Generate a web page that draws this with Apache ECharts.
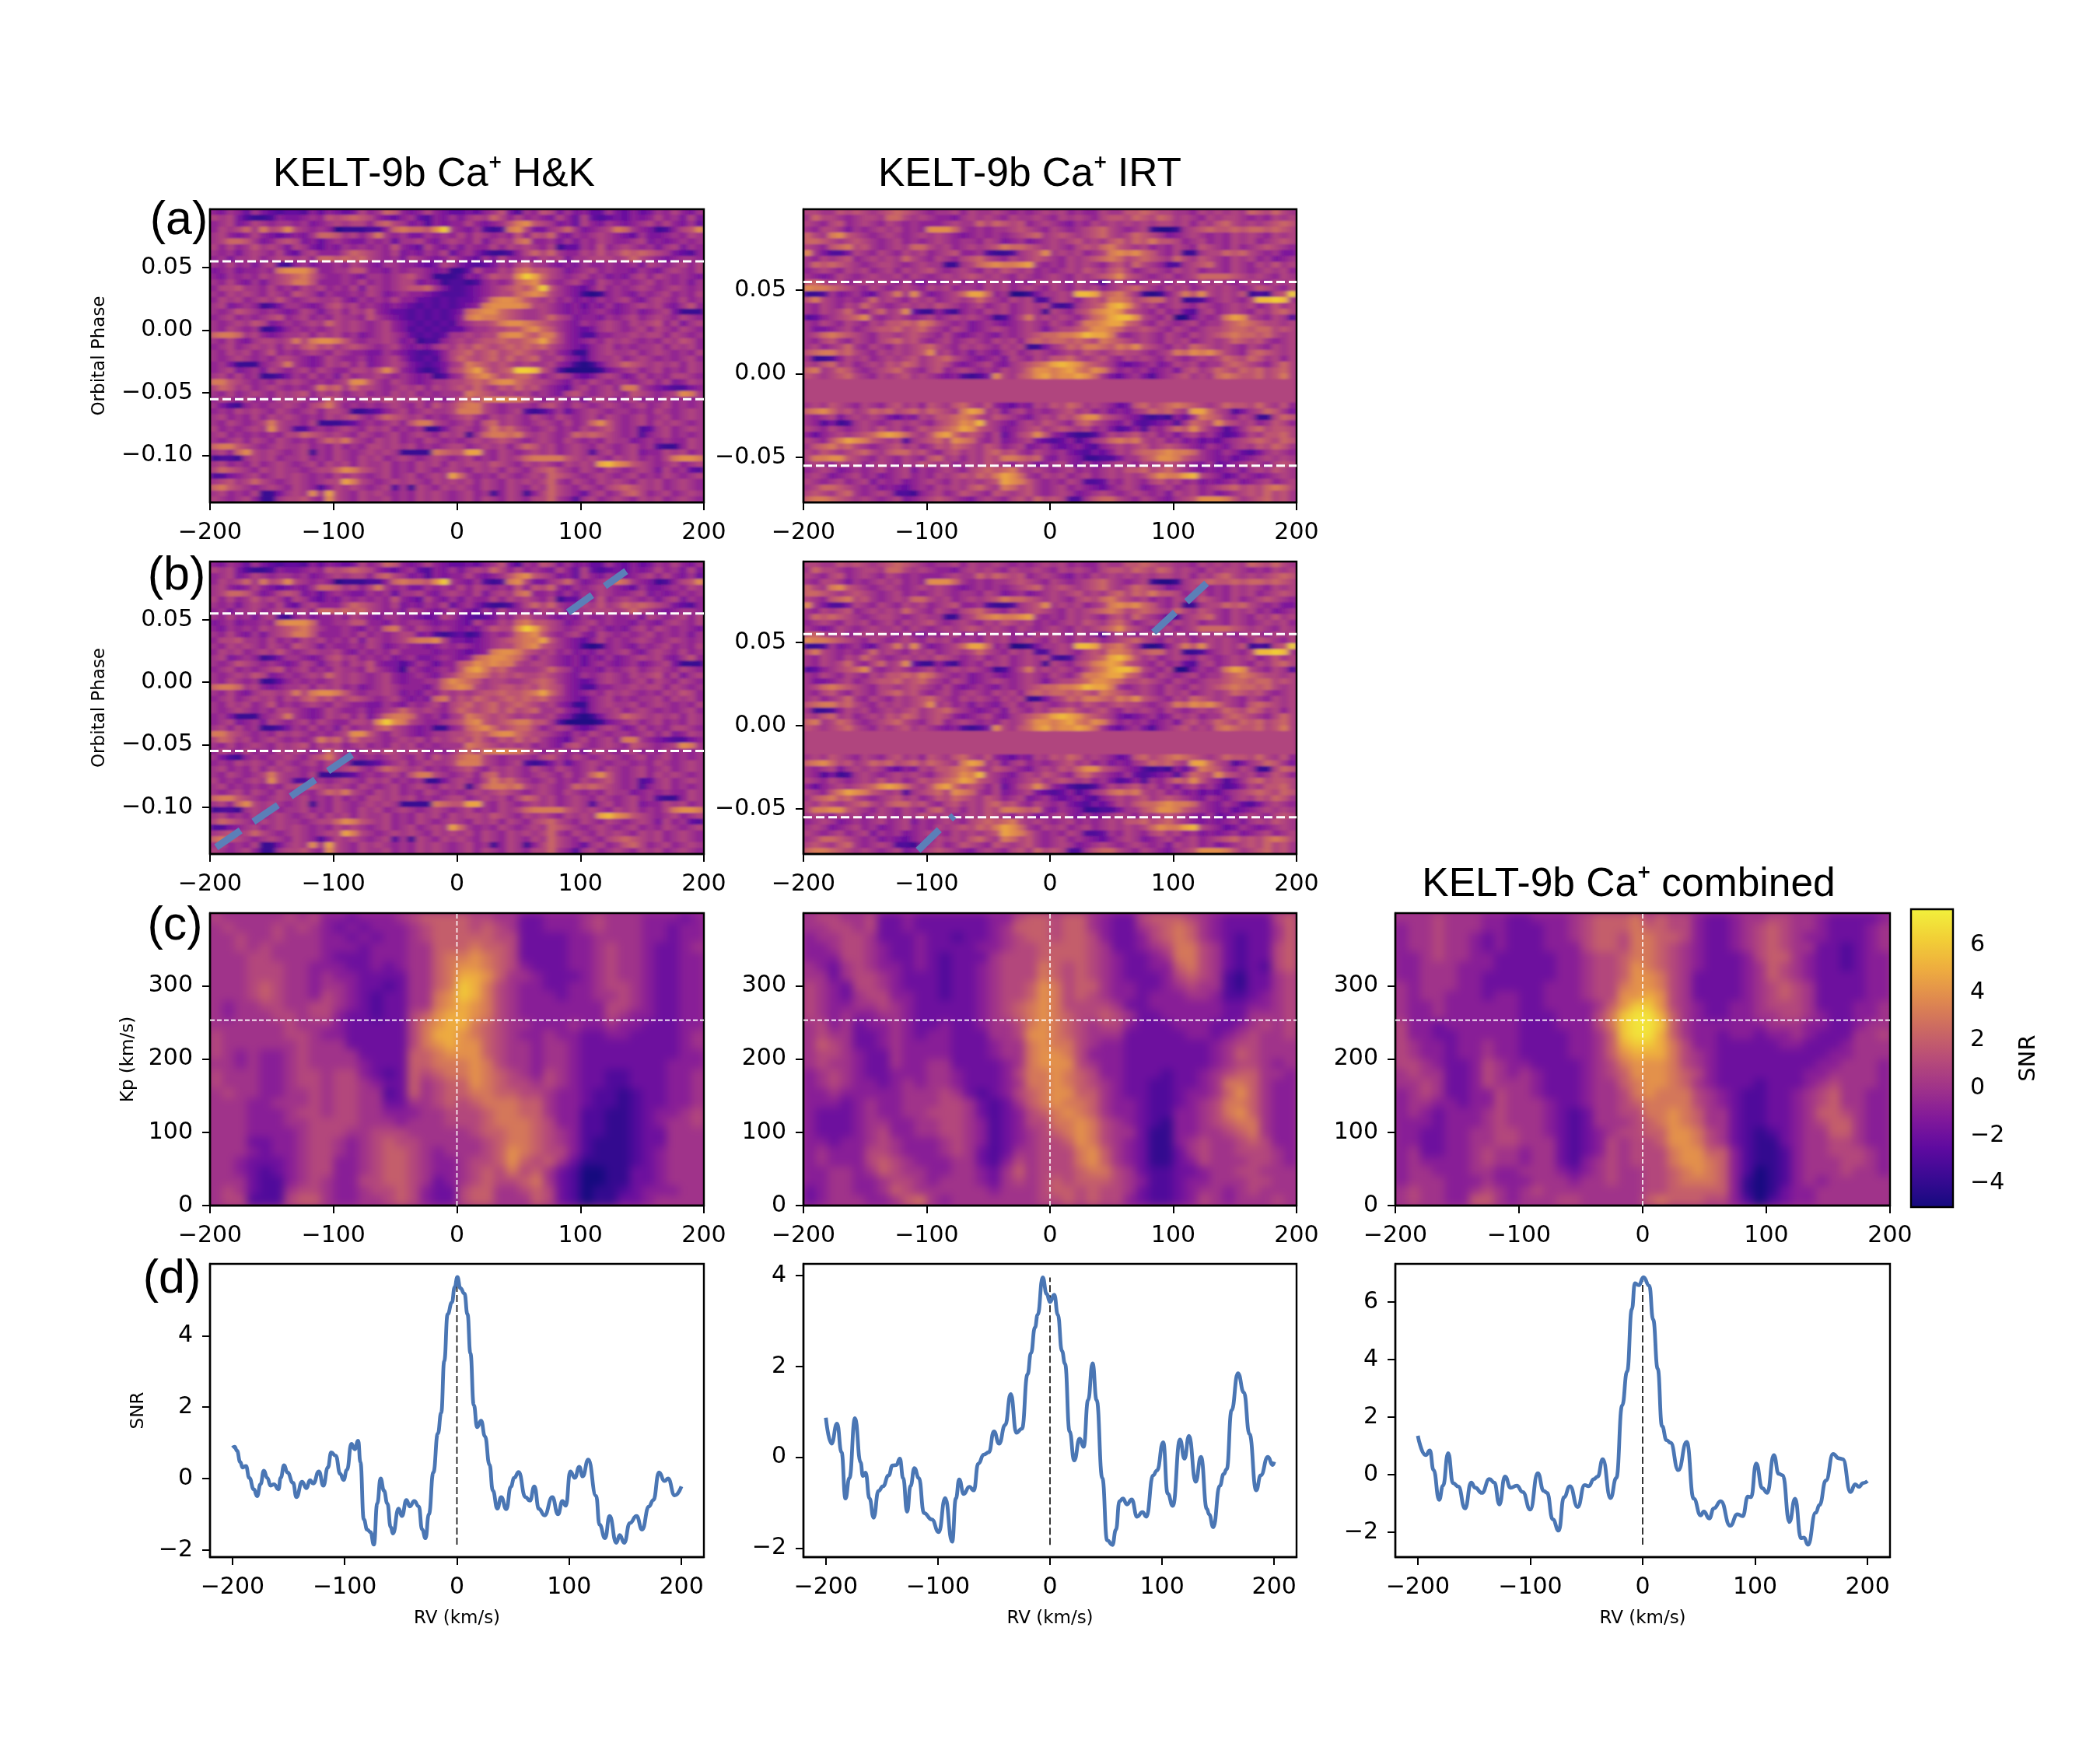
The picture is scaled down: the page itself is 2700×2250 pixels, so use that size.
<!DOCTYPE html>
<html>
<head>
<meta charset="utf-8">
<title>KELT-9b Ca+</title>
<script src="https://cdn.jsdelivr.net/npm/echarts@6/dist/echarts.min.js"></script>
<style>
html, body { margin: 0; background: #fff; }
.layer { position: absolute; left: 0; top: 0; width: 2700px; height: 2250px; }
</style>
</head>
<body>
<svg width="0" height="0" style="position:absolute"><filter id="rowBlur" x="0" y="0" width="100%" height="100%"><feGaussianBlur stdDeviation="3.5 1"/></filter></svg>
<div id="noiseMaps" class="layer" style="filter: url(#rowBlur)"></div>
<div id="kpMaps" class="layer" style="filter: blur(6px)"></div>
<div id="axes" class="layer"></div>
<script>
// hex digit per cell, top row first. phase maps: SNR = (d - 8) * 0.56
var hkAbove = [
'6576475434 4364654586 7a96568654 4546795376 9857564475 4645768657',
'8785322365 5676989a98 6546743657 5787a86867 6586484345 4656867585',
'6785687677 6756787886 9a87563656 6865679bc9 8756486576 5678686574',
'6878a7b89c 8767612223 36abaa9cf7 657323bc85 578a75678b a76523689c',
'7865686545 657aa97868 b767557676 8687676969 8a65767876 5475567687',
'78aa975689 8564676557 6747786578 7685787ab6 6757576876 6785656767',
'8686797875 8754657676 7696548657 5766868787 6824476967 8767578576',
'7675787685 4786668a98 7685657684 675322368a 8a76687978 a9a9875436',
'6757786788 786aa9a9a8 7675876568 6547586676 8785778887 8a87656776',
'7686757832 6756676876 5776654587 5434576897 7656576676 6758767868'
];
var hkTransitRaw = [
'56756676bc cca6677996 6576776562 2486687ab9 9875678676 6576578768',
'6576768789 ab97667657 7678976222 3657988cfd a876786756 5786876765',
'7686575789 bb96667686 7678856523 3236767abc 9767865876 7678676757',
'6889776867 6878676858 767899a753 3456789a9b f976546867 6787678767',
'7687876876 9875766768 7567665433 3456788abc b876521267 6576786768',
'6878678797 6787786576 7686644343 4457bccb98 7867565767 8657876867',
'7856762357 7656897867 6565434343 456bccccb8 8765646575 6787865796',
'7679876765 6875786879 6544343434 5abcca9877 8765656765 6756785222',
'6786767896 7867687769 7654343434 6bcbba9877 8a87566576 7867876876',
'7678798567 6787a87876 7865434343 67889bccba 9876576787 6878968578',
'7687672246 7676787876 7865343434 46778899bc a976545787 6786876876',
'abba786567 7868786756 7876434347 78788bcca9 bb86533667 7878868767',
'7686578878 b8bccb9767 7875623367 87899a99ab da86567687 8767687986',
'6786787868 79a8978987 6786565787 98a989a9a9 a876546786 7677868786',
'7687867967 6787687665 5765433468 9a89a89a98 7865226787 7867876768',
'7678767688 7656876675 6786434368 a989a8a89a 7786536778 6787676786',
'675222678b 7656878685 6787543457 8ba9898787 7865212578 a987878687',
'6785675876 7868766887 9c96532358 9bda89affe 9731111256 7867867687',
'7868672235 7686758677 8767656236 7abca89aa8 6787545787 5686768876'
];
var hkTransitClean = [
'56756676bc cca6677996 6576776566 5486687ab9 9875678676 6576578768',
'6576768789 ab97667657 6ab7687676 5657988cfd a876786756 5786876765',
'7686575789 bb96667686 7678856323 4236767abc 9767865876 7678676757',
'6889776867 6878676858 7678abbc85 5456789abb d976546867 6787678767',
'7687876876 9875766768 7567665676 7656788abc 9876521267 6576786768',
'6878678797 6787786576 7686666566 5456bccb98 7867565767 8657876867',
'7856762357 7656897867 6756755676 56abccba86 8765646575 6787865796',
'7679876765 6875786879 6553576466 9acbcbb878 8765646765 6756785222',
'6786767896 7867687769 7652765676 9cdb9a8777 8a87566576 7867876876',
'7678798567 6787a87876 7865676578 abba898988 9876576787 6878968578',
'7687672246 7676787876 78656677ac ba97887789 a976545787 6786876876',
'abba786567 7868786756 78766657ab cb87899898 a986533667 7878868767',
'7686578878 b8bccb9767 7875657687 87899a99ab da86567687 8767687986',
'6786787868 79a8978987 6786565ab7 98a989a9a9 a876546786 7677868786',
'7687867967 6787687665 5765767868 9a89a89a98 7865226787 7867876768',
'7678767688 7656876675 678a878768 a989a8a89a 7786536778 6787676786',
'675222678b 7656878685 7abba76757 8ba9898787 7865212578 a987878687',
'6785675876 7868766887 cfcb876678 9bc989abb9 9731111256 7867867687',
'7868672235 7686758677 9a87656226 7abca89aa8 6787545787 5686768876'
];
var hkBelow = [
'bb98767687 8767678cc9 7687656778 89a9bcca98 8765768767 7678685687',
'8a97867876 767b9a7a88 7678786878 98a8798a89 7654786786 bb76543356',
'7686787687 8968786786 7687867677 7ba9878786 7658976787 6987678cb7',
'6876867687 8767a87678 7987886767 9a8bbcbb98 6786758876 7867686767',
'7532676778 7689b86767 6787686978 abb8767776 8976876787 6786786767',
'6768787687 6786887223 4678678778 bbb8767832 3574678767 7676876787',
'7867686878 7676878976 8a98786767 8976878768 7687678687 6786786787',
'7687678b87 7682223467 67869bb876 7869a78767 876867ac97 6786878767',
'8676787c87 3367678768 7867672257 8768b9a876 7867687897 6734786787',
'7867676768 8a98787687 6786787687 827abbab87 8767a9a987 6736786767',
'7678687687 6768a9b876 8786768767 6787898767 8768767687 7567676687',
'abb9876787 7867686768 8787867678 86787868a9 7867876876 7867322687',
'786ac87876 7827687678 7872222ba9 9dd7687678 7867873786 7856687867',
'2332787867 7867687687 8678767876 78676878ab bbb9878768 786768bccb',
'7867686787 6786878687 7867687868 7887987687 8768787dec b987678678',
'8a98768787 76788acb98 7867687678 7687868768 9a87687687 6787586743',
'3356786787 8767687876 786786787d a767687678 7a98767876 7867687678',
'78978a8767 876788db87 6787876878 7868768787 8a76876878 7687867876',
'ab98767876 8763687876 7837287687 8768768768 7a87687689 a987867876',
'7867682257 87c7d87687 8767687876 7867268726 8a87647867 9a86786787',
'8767862278 8976c87687 7867687876 7868768768 8a76378678 7687867876'
];
var irtAbove = [
'8877989878 9a98767786 8778767678 7867668779 9a98877687 8787a98a87',
'7a88767887 aa87876657 8787687787 6878768998 a98a978768 7887676878',
'8768967876 8767666787 7a8a989678 7657687878 7878878687 9a878789a9',
'7688757678 78676ccca7 6767789876 876789a876 782112789a 99a9aa9a98',
'a87bc98767 8767878765 67676789a7 898789a878 a987567876 7687876878',
'aa98789876 7867678767 7687567567 87897879a8 a9b9986786 7687867898',
'8769ab8976 787aa87867 8789baa987 876898ab98 7867687698 7686789876',
'c753358768 7687867896 673223789c 7878678bcb ca97682278 8a9a876755',
'7687896787 87a8768768 9a87687898 768789aba8 9a987a8798 7687867567',
'7a9a987678 8767877227 8abcbbcd76 7687876897 a87633789a 7687687978',
'6787687867 8687897678 7687987867 67879879a8 6787687867 7687678786',
'7656876787 7868767878 9878768767 8768789ac9 87678678aa aa98787687',
'9a87867878 7686576786 7687867687 8768763787 6787687687 8767876878',
'cbba987687 6787687867 7687867876 8768786789 a876878678 7876798768',
'2237567547 8b7c75678a dda6711257 787eed9ab9 721268b9c8 787923289f',
'9b876767a7 8768786787 8a87687833 7876898bba 89aa782236 78768eefe7',
'7687687a87 6787879876 7867867878 323789adec 9786787687 6787867978',
'76878a768a 78c4226326 7687867872 87689bcdc9 8768674378 67876879a8',
'346789ac76 7876786787 8762368b78 78768abdee c876811576 7bdc876873',
'7687687687 99a9ba8767 5676567876 8768bbcdda 9768767867 79aba98878',
'7556786789 9a89a87687 5678767875 7889accba8 8987687678 89aa9aa898',
'78aba98768 8789876865 676576789a abbceddb76 7876876878 9abaa9a878',
'7689768768 9a89767867 87687869a9 aa9a98ba98 7876878678 78a9897678',
'78678a7687 68789a8768 7876878225 78a9bba9ba c987687a98 7876876878',
'9abb9a8768 78789c7867 5765786787 6787987898 87678bacbc a8769a9878',
'7223687867 8789789a87 6567587687 99a8789768 7876876787 8a98a97868',
'879a786787 98a9789865 67865789ab dedca98754 5675687867 79a98768a8',
'ab78a97678 9a87689678 7676878acc bcdbacb867 6756758978 a98a9a89a8',
'98789a8768 7897876563 235c879acd bccdca7546 7536789787 aba99a89b8'
];
var irtGapRows = 4;  // masked spectra, SNR 0
var irtBelow = [
'7879876876 897869879a 8796546587 98a9787645 9a89aba987 8a998a8796',
'abca8978a9 a89a8a987b dc78578676 7897867565 78a9a87dda 873578a975',
'7678578787 54658799ab a879876578 798acc9876 53232647ba 97687228a9',
'7635237876 78787689ac be87657879 8769a87657 4345637a98 c987867986',
'8768767879 7867989abd c987567897 8987867534 63768a9c97 63579a8998',
'64678789ac dca879cda8 98684689c9 6532236878 9786757867 53468799a8',
'8769bdcb98 783789a8cb a768567854 3463578aba b878675645 46789a98a9',
'79ab9a8767 89786798a9 8798678567 5456436787 8978987657 6578798a97',
'8798789a87 9aa8976897 879a897687 6754354687 9aabcbba76 5764357876',
'8bbcc98768 768769a786 8798bba9a6 5765223357 79accb9876 5645678787',
'7876878678 7687987867 8798768756 7865756787 6878987657 4567876898',
'6787567678 6785767876 89a9ab8787 6786767879 9a89a87656 5675787987',
'7875678675 6786768789 8a9bdca768 7867867878 78acbbde87 6457656787',
'8767867857 6756787687 8789dcb976 7687334768 7689786756 5675678678',
'78aa987675 6546768787 9a87ba8976 7867654678 7567867867 89a898aba8',
'89879a7678 7332678679 8769878976 7875678767 8767587867 567898a897',
'abba987876 7856789876 57876897a8 983379aa87 68765789cc cb9789a897'
];

// Kp maps, hex digit per cell, top row first. SNR = d - 5, 10 km/s per column
var kpHk = [
'6555556564 4344456777 7665533444 5655544434',
'5655565654 3434445677 7676533444 5655544344',
'5565565554 4343445677 7776633334 4555544344',
'5565655554 4434445577 7877633334 4565543345',
'5556655554 3334445578 8987633334 4565543344',
'5556665544 4334345578 9987643334 4565543344',
'5556665545 4433335578 aa97554333 4565543344',
'5556765545 5433235578 ba86544334 4566543344',
'5556765546 5432335589 ba86544434 4556543344',
'5455665566 5432335589 a986544444 4466543344',
'5455566566 433233679a a986544444 4465443344',
'5555556555 433333689a a876554445 4454433344',
'6555556654 43333368aa 9876544544 3344333345',
'6555555655 533333689a 9976554554 3333333345',
'6545445655 5533337789 9976554554 3333333344',
'5545445655 5543337788 8986554554 3333333444',
'6555445665 6643237678 8987654654 3322333445',
'6555445665 6654337567 7987665654 3322333445',
'5655445565 6655237567 7887766544 3221233445',
'5554455565 6655335567 6788877544 3221233445',
'5554445665 6655444556 6678877544 2211234456',
'5554445566 6655545556 6678887644 2211234556',
'5554444566 6556665555 5677887654 2211233555',
'5553344566 5456766555 5567887654 2111233555',
'5554344566 5456776545 5567987664 2111234555',
'5543334566 4456776544 5667976753 1111234555',
'5543234566 4456776544 5676867532 0011334555',
'5553224565 4466776534 5676678532 0011334555',
'5653225665 4456676433 6775567632 0112344455',
'5662226775 4455676433 6775557632 0113345555'
];
var kpIrt = [
'5665563343 3333344677 6775433677 7654333367',
'5566563343 3333345777 6775433567 8754333357',
'4556653334 3323345677 6776433467 8754323357',
'4456654334 3333445667 7776533456 8865323367',
'4446654334 3233356667 7776543345 8865323367',
'5435654434 3233456668 7676543344 7865323267',
'5535665433 3233456668 7676543334 6765213356',
'6543665433 3233456679 8677544334 5655213356',
'6543566443 3233456679 8676544344 4554223456',
'6544556543 3333456789 8666653344 4444334456',
'6545445543 3333456789 8766765334 4444335556',
'5645344543 3433455689 8765664333 4443345656',
'5655334543 4433355699 8765553333 3443456556',
'5765334544 4433345589 8865443333 3334566555',
'5665433544 4433345589 9864443333 3334576555',
'5655433544 5533334589 9965443333 3334566545',
'4565433444 5543334688 9876443332 3345677554',
'4565443454 5543334588 9876543322 3345887544',
'4454444455 5653234678 9977543322 3445797544',
'4443454455 5665323578 9887544322 3456887544',
'4333454455 6665323467 8987544322 4456897544',
'4333455445 5665423466 8898654321 4456788544',
'4333456445 5665423456 7898655311 4455678544',
'4434456544 4565423456 6798654311 4565567644',
'4544466544 4565323556 6689754311 3565566654',
'4544467654 4455324656 6689754311 3465556654',
'4455457655 4455435756 6678865322 3345566555',
'4455445665 4555435656 7677765422 3445556655',
'3455445765 5555545556 7767665322 3455456555',
'3455544578 5455555556 6767664322 3465455565'
];
var kpCombined = [
'5556555443 3444567778 6766433455 6655433334',
'4556555443 3344567778 7766433456 7655433345',
'4556554343 3344567768 8776433456 7654433345',
'4556554343 3344467768 8765433456 7655332345',
'4456554433 3334456678 8765433346 7754332344',
'4455544433 3334456679 8765433345 7654332344',
'4455544333 3334456679 9865333345 7654333344',
'5455544333 3344456689 9865333345 6765333344',
'5455444344 3344456699 a965333345 6765333344',
'5445444444 3344445 79b b965433445 6665333445',
'5445444444 333444 68bc ca75433445 5665433445',
'6443444444 333444 68bc cb75444444 5554433455',
'6443344444 333344 57bc ca75443443 4454333556',
'6544344544 333344 57ab ba86443333 3443334555',
'6544344544 333344 579a aa86543333 3333344555',
'6654334654 433334 5689 9986543333 3333445554',
'5655334654 543334 5679 9987643333 3334455554',
'5565334655 543334 5578 9987543332 3334565554',
'4565334465 543334 5568 9888654322 3345675544',
'4554434465 554334 5567 8888654322 3345675544',
'4543444565 554323 5566 8898755322 3345776544',
'4443444565 554323 5556 7898755322 3345677544',
'4433445566 554323 4566 7799865321 2345577544',
'4433445566 555323 4656 6799865321 1345566544',
'4533445655 455323 4656 6689977421 1245566654',
'4544445655 455324 5656 6689987421 1245556654',
'4554445544 555434 5655 6678987420 1245556554',
'4555444544 455545 5655 6678887410 1245455555',
'5655445654 565555 5555 6677777410 1344555555',
'5655447754 555665 5555 7877766420 2344555555'
];

// SNR against RV at Kp = 253 km/s
var rvHk = [-200,-198,-196,-193,-191,-188,-185,-181,-178,-175,-172,-169,-166,-163,-159,-157,-154,-151,-146,-143,-138,-134,-131,-128,-123,-119,-115,-112,-108,-104,-101,-98,-94,-91,-88,-86,-83,-80,-77,-74,-71,-68,-65,-62,-59,-57,-52,-49,-45,-42,-38,-34,-31,-28,-25,-21,-17,-14,-11.3,-8.3,-4.5,-2,0.4,3,6.7,9.4,12,15,18,21.5,25,29,32,36,39.4,44,48,51,55,61,65,69,73,78,85,90,94,97,101,105,109,112,117,124,127,132,136,142,145,149,154,160,165,171,175,180,185,188,194,200];
var snrHk = [0.86,0.89,0.78,0.46,0.31,0.35,0.02,-0.3,-0.49,-0.16,0.22,0.02,-0.2,-0.16,-0.3,0.02,0.37,0.17,-0.12,-0.52,-0.09,-0.27,-0.05,-0.14,0.2,-0.2,0.31,0.73,0.64,0.13,-0.04,0.24,0.97,0.82,1.06,0.46,-1.14,-1.43,-1.5,-1.85,-0.7,0,-0.34,-0.7,-1.36,-1.54,-0.84,-1.05,-0.6,-0.78,-0.63,-0.78,-1.43,-1.67,-1,0.17,1.26,1.84,3.29,4.6,4.93,5.36,5.64,5.33,5.18,4.6,3.51,2.06,1.44,1.62,1.18,0.39,-0.34,-0.84,-0.52,-0.86,-0.23,0.02,0.18,-0.52,-0.62,-0.22,-0.85,-1.03,-0.52,-1,-0.63,-0.76,0.2,0.02,0.33,0.06,0.53,-0.49,-1.29,-1.67,-1.05,-1.8,-1.58,-1.8,-1.25,-1.05,-1.43,-0.78,-0.6,0.17,-0.07,0,-0.47,-0.22];
var rvIrt = [-200,-195,-190,-186,-182.5,-179,-174,-169,-167,-164.6,-161,-157.4,-153,-149,-144,-140.5,-137,-134,-131,-127.5,-124.4,-121,-117,-112.4,-105.5,-99.3,-93.5,-87.3,-84,-81,-77,-72,-68,-64,-59,-54.6,-50,-45.4,-40,-35,-30,-25,-20,-17,-13.4,-11,-6.5,-3,0,3.8,7,10.7,13.4,17.5,21.6,26.5,30,34,38,41.6,46.7,51,55.7,58.8,62,65,68.7,72.9,77.7,82.5,86,92,95.5,101,105,109.6,116,120,124,130,134.7,140,142,145.7,151.5,155,157.7,162,167.7,173,178,184,188,194.5,198.6,200];
var snrIrt = [0.87,0.3,0.74,0.11,-0.91,-0.46,0.86,-0.11,-0.41,-0.34,-0.91,-1.33,-0.74,-0.64,-0.4,-0.18,-0.17,-0.03,-0.46,-1.2,-0.63,-0.24,-0.46,-1.23,-1.37,-1.65,-0.9,-1.86,-0.91,-0.49,-0.81,-0.65,-0.73,-0.14,0.06,0.11,0.57,0.3,0.71,1.39,0.54,0.63,1.83,2.29,2.86,3.14,3.96,3.6,3.42,3.58,3.14,2.34,2.06,0.57,-0.07,0.41,0.23,1.26,2.07,1.26,-0.46,-1.83,-1.93,-1.6,-0.97,-0.91,-1.04,-0.93,-1.31,-1.21,-1.31,-0.4,-0.29,0.33,-0.8,-1.07,0.39,-0.03,0.47,-0.54,0.01,-1.14,-1.26,-1.54,-0.63,-0.37,-0.26,1.03,1.85,1.43,0.51,-0.73,-0.4,0.01,-0.17,-0.1];
var rvCombined = [-200,-193,-189.3,-186,-181,-177.6,-173,-168.7,-164,-158,-152.5,-149,-143,-136.3,-132,-127.4,-122.5,-117.4,-112,-106.7,-100,-93.3,-88,-85,-80,-74.7,-70,-64.7,-57.8,-51.6,-48,-43.4,-40,-35.5,-28.6,-23.4,-18.2,-13.8,-9.6,-6.9,-3.4,0.7,5.9,9.3,13.4,17.2,21.3,24.8,31.7,39.2,45.4,51.6,54.4,59.2,63.3,69.5,77.8,84.3,89,93.6,96.4,101,106.4,110.8,116.7,121,124.6,130.5,135.6,140.8,143.5,147,153.9,157.3,163,169.4,174.5,178,184.9,189,192.5,196,200];
var snrCombined = [1.35,0.68,0.84,0.16,-0.87,-0.38,0.75,-0.29,-0.41,-1.17,-0.27,-0.45,-0.63,-0.15,-0.27,-1.03,-0.06,-0.45,-0.38,-0.6,-1.21,0.05,-0.56,-0.63,-1.55,-1.94,-0.78,-0.4,-1.12,-0.36,-0.4,-0.15,-0.06,0.54,-0.81,-0.11,2.41,3.59,5.75,6.65,6.58,6.86,6.56,5.39,3.68,1.69,1.2,1.11,0.16,1.14,-0.83,-1.41,-1.28,-1.52,-1.17,-0.92,-1.77,-1.37,-1.44,-0.76,-0.78,0.39,-0.47,-0.63,0.68,0.03,-0.02,-1.64,-0.83,-2.2,-2.18,-2.43,-1.32,-1.05,-0.2,0.72,0.57,0.54,-0.6,-0.33,-0.42,-0.29,-0.22];

// planet trail [rv, phase] outside transit
var trailHkLow = [[-195,-0.132],[-85,-0.058]];
var trailHkHigh = [[90,0.056],[137,0.089]];
var trailIrtLow = [[-107,-0.0748],[-78,-0.054]];
var trailIrtHigh = [[84,0.056],[127,0.0855]];

var phaseTicks = [-0.10,-0.05,0,0.05];
var kpTicks = [0,100,200,300];
var rvTicks = [-200,-100,0,100,200];
var cbarTicks = [-4,-2,0,2,4,6];
var contactPhase = 0.055;
var kpPlanet = 253;

var plasma = ['#150a7f','#3a0a93','#5f0aa0','#82199a','#a0338a','#b84c78','#cc6a62','#e08a4e','#eead3f','#f2cf36','#f2f03c'];

var colX = [[270,635],[1033,634],[1794,636]];
var rowY = {a:[269,377], b:[722,376], c:[1174,376], d:[1625,377]};

function box(col,row){ return {left:colX[col][0], width:colX[col][1], top:rowY[row][0], height:rowY[row][1]}; }
function minus(v){ return String(v).replace('-','\u2212'); }

function decode(rows){
    return rows.map(function(r){
        return r.replace(/ /g,'').split('').map(function(c){ return parseInt(c,16); });
    });
}
function gapRows(n){
    var out = [], row = '';
    for(var i=0;i<60;i++){ row += '8'; }
    for(var j=0;j<n;j++){ out.push(row); }
    return out;
}
function cells(grid,scale){
    var out = [];
    grid.forEach(function(row,y){
        row.forEach(function(d,x){ out.push([x,y,scale(d)]); });
    });
    return out;
}
function phaseSnr(d){ return (d-8)*0.56; }
function kpSnr(d){ return d-5; }

// layer holding only heat cells, blurred by css and clipped to the axes boxes
function heatLayer(id,panels,cols,nrows,scale,vmin,vmax){
    var grids=[],xs=[],ys=[],series=[],clip='';
    var xd=[],yd=[],i;
    for(i=0;i<cols;i++){ xd.push(i); }
    for(i=0;i<nrows;i++){ yd.push(i); }
    panels.forEach(function(p,i){
        grids.push(p.box);
        xs.push({type:'category',gridIndex:i,data:xd,show:false});
        ys.push({type:'category',gridIndex:i,data:yd,show:false,inverse:true});
        series.push({type:'heatmap',xAxisIndex:i,yAxisIndex:i,data:cells(decode(p.rows),scale),progressive:0,animation:false,emphasis:{disabled:true}});
        var b=p.box;
        clip+='M'+b.left+' '+b.top+'H'+(b.left+b.width)+'V'+(b.top+b.height)+'H'+b.left+'Z ';
    });
    var el=document.getElementById(id);
    el.style.clipPath="path('"+clip+"')";
    var chart=echarts.init(el);
    chart.setOption({
        animation:false,
        backgroundColor:plasma[4],
        grid:grids, xAxis:xs, yAxis:ys,
        visualMap:{show:false,min:vmin,max:vmax,inRange:{color:plasma}},
        series:series
    });
    return chart;
}

var irtRows = irtAbove.concat(gapRows(irtGapRows),irtBelow);
heatLayer('noiseMaps',[
    {box:box(0,'a'),rows:hkAbove.concat(hkTransitRaw,hkBelow)},
    {box:box(1,'a'),rows:irtRows},
    {box:box(0,'b'),rows:hkAbove.concat(hkTransitClean,hkBelow)},
    {box:box(1,'b'),rows:irtRows}
],60,50,phaseSnr,-4.2,4.8);
heatLayer('kpMaps',[
    {box:box(0,'c'),rows:kpHk},
    {box:box(1,'c'),rows:kpIrt},
    {box:box(2,'c'),rows:kpCombined}
],40,30,kpSnr,-5,7.5);

// axes, lines and text on top
var grids=[],xAxes=[],yAxes=[],series=[];
var axisFont='DejaVu Sans';

function addPanel(b,xMin,xMax,yMin,yMax,yTicks,yFmt,opt){
    var i=grids.length;
    opt=opt||{};
    grids.push({left:b.left,top:b.top,width:b.width,height:b.height,show:true,borderColor:'#000',borderWidth:2.4,backgroundColor:'transparent'});
    xAxes.push({
        type:'value',gridIndex:i,min:xMin,max:xMax,splitLine:{show:false},
        axisLine:{show:true,onZero:false,lineStyle:{color:'#000',width:2.4}},
        axisTick:{show:true,length:10,lineStyle:{color:'#000',width:2},customValues:rvTicks},
        axisLabel:{customValues:rvTicks,formatter:minus,color:'#000',fontSize:30,fontFamily:axisFont,margin:24,hideOverlap:false},
        name:opt.xName||'',nameLocation:'middle',nameGap:68,nameTextStyle:{fontSize:23,fontFamily:axisFont,color:'#000'}
    });
    yAxes.push({
        type:'value',gridIndex:i,min:yMin,max:yMax,splitLine:{show:false},
        axisLine:{show:true,onZero:false,lineStyle:{color:'#000',width:2.4}},
        axisTick:{show:true,length:10,lineStyle:{color:'#000',width:2},customValues:yTicks},
        axisLabel:{customValues:yTicks,formatter:yFmt,color:'#000',fontSize:30,fontFamily:axisFont,margin:22,padding:[10,0,0,0],hideOverlap:false},
        name:opt.yName||'',nameLocation:'middle',nameGap:opt.yGap||100,nameTextStyle:{fontSize:23,fontFamily:axisFont,color:'#000'}
    });
    return i;
}
function addLine(i,data,color,width,dash,z){
    series.push({type:'line',xAxisIndex:i,yAxisIndex:i,data:data,showSymbol:false,symbol:'none',silent:true,animation:false,z:z||3,
        lineStyle:{color:color,width:width,type:dash||'solid'}});
}
function zip(a,b){ return a.map(function(v,i){ return [v,b[i]]; }); }
function phaseFmt(v){ return minus(v.toFixed(2)); }
function intFmt(v){ return minus(v); }

var longDash=[11,5], thinDash=[6,3], blackDash=[9,4], trailDash=[38,20];

// phase rows
[[0,'a',-0.1375,0.0966,'Orbital Phase'],[1,'a',-0.077,0.0985,''],[0,'b',-0.1375,0.0966,'Orbital Phase'],[1,'b',-0.077,0.0985,'']].forEach(function(p){
    var i=addPanel(box(p[0],p[1]),-200,200,p[2],p[3],phaseTicks,phaseFmt,{yName:p[4],yGap:130});
    addLine(i,[[-200,contactPhase],[200,contactPhase]],'#fff',3,longDash);
    addLine(i,[[-200,-contactPhase],[200,-contactPhase]],'#fff',3,longDash);
    if(p[1]==='b'){
        addLine(i,p[0]===0?trailHkLow:trailIrtLow,'#5b7fb8',9,trailDash,4);
        addLine(i,p[0]===0?trailHkHigh:trailIrtHigh,'#5b7fb8',9,trailDash,4);
    }
});
// Kp row
[0,1,2].forEach(function(c){
    var i=addPanel(box(c,'c'),-200,200,0,399,kpTicks,intFmt,{yName:c===0?'Kp (km/s)':'',yGap:93});
    addLine(i,[[0,0],[0,399]],'#fff',1.6,thinDash);
    addLine(i,[[-200,kpPlanet],[200,kpPlanet]],'#fff',1.6,thinDash);
});
// SNR row
[[0,rvHk,snrHk,-2.2,6.01,[-2,0,2,4]],[1,rvIrt,snrIrt,-2.2,4.26,[-2,0,2,4]],[2,rvCombined,snrCombined,-2.86,7.32,[-2,0,2,4,6]]].forEach(function(p){
    var i=addPanel(box(p[0],'d'),-220,220,p[3],p[4],p[5],intFmt,{xName:'RV (km/s)',yName:p[0]===0?'SNR':'',yGap:80});
    var ys=p[2], lo=Math.min.apply(null,ys), hi=Math.max.apply(null,ys);
    addLine(i,[[0,lo],[0,hi]],'#000',1.6,blackDash,2);
    series.push({type:'line',xAxisIndex:i,yAxisIndex:i,data:zip(p[1],ys),showSymbol:false,symbol:'none',silent:true,animation:false,z:3,
        smooth:0.5,smoothMonotone:'x',lineStyle:{color:'#4a76b4',width:4.8}});
});
// colorbar ticks, the gradient comes from visualMap
var cb=grids.length;
grids.push({left:2457,top:1169,width:54,height:383,show:true,borderColor:'#000',borderWidth:2.4,backgroundColor:'transparent',z:5});
xAxes.push({type:'value',gridIndex:cb,show:false,min:0,max:1});
yAxes.push({type:'value',gridIndex:cb,position:'right',min:-5,max:7.5,splitLine:{show:false},
    axisLine:{show:false},
    axisTick:{show:true,length:10,lineStyle:{color:'#000',width:2},customValues:cbarTicks},
    axisLabel:{customValues:cbarTicks,formatter:intFmt,color:'#000',fontSize:30,fontFamily:axisFont,margin:22,padding:[10,0,0,0],hideOverlap:false},
    name:'SNR',nameLocation:'middle',nameRotate:90,nameGap:83,nameTextStyle:{fontSize:29,fontFamily:axisFont,color:'#000'}});

var headFont='Liberation Sans';
function head(text,x,y,size){
    return {text:text,left:x,top:y,textAlign:'center',textVerticalAlign:'middle',padding:0,
        textStyle:{fontFamily:headFont,fontWeight:'normal',fontSize:size,color:'#000'}};
}

var axesChart=echarts.init(document.getElementById('axes'));
axesChart.setOption({
    animation:false,
    title:[
        head('KELT-9b Ca\u207A H&K',558,225,51.5),
        head('KELT-9b Ca\u207A IRT',1324,225,51.5),
        head('KELT-9b Ca\u207A combined',2094,1138,51.5),
        head('(a)',230,284,61),
        head('(b)',227,741,61),
        head('(c)',225,1191,61),
        head('(d)',221,1645,61)
    ],
    grid:grids, xAxis:xAxes, yAxis:yAxes,
    visualMap:{type:'continuous',seriesIndex:[],min:-5,max:7.5,left:2457,top:1169,itemWidth:54,itemHeight:383,padding:0,
        calculable:false,realtime:false,hoverLink:false,text:null,showLabel:false,inRange:{color:plasma},z:1,
        textStyle:{color:'transparent'},formatter:function(){return '';}},
    series:series
});
</script>
</body>
</html>
